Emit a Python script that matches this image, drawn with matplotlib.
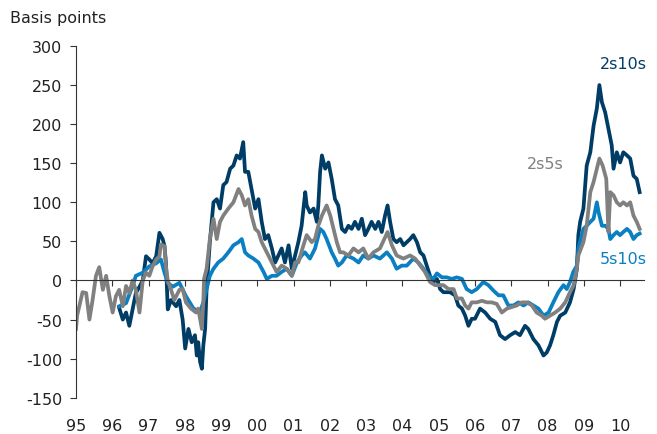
import matplotlib
matplotlib.use("Agg")
import matplotlib.pyplot as plt

plt.rcParams['font.family'] = ['DejaVu Sans']
plt.rcParams['axes.unicode_minus'] = False

# 2s5s spread (bp)
t_2s5s = [1995.00, 1995.03, 1995.09, 1995.18, 1995.28, 1995.37, 1995.46, 1995.55, 1995.64,
          1995.74, 1995.83, 1995.92, 1996.01, 1996.10, 1996.19, 1996.29, 1996.38, 1996.47,
          1996.56, 1996.65, 1996.75, 1996.84, 1996.93, 1997.02, 1997.11, 1997.21, 1997.30,
          1997.34, 1997.44, 1997.48, 1997.53, 1997.62, 1997.71, 1997.85, 1997.94, 1998.03,
          1998.17, 1998.31, 1998.37, 1998.47, 1998.51, 1998.53, 1998.60, 1998.69, 1998.79,
          1998.88, 1998.97, 1999.06, 1999.20, 1999.34, 1999.48, 1999.57, 1999.66, 1999.75,
          1999.84, 1999.94, 2000.03, 2000.12, 2000.26, 2000.40, 2000.53, 2000.67, 2000.81,
          2000.95, 2001.04, 2001.13, 2001.27, 2001.36, 2001.50, 2001.59, 2001.68, 2001.78,
          2001.91, 2002.01, 2002.10, 2002.19, 2002.28, 2002.37, 2002.51, 2002.65, 2002.79,
          2002.92, 2003.06, 2003.20, 2003.38, 2003.59, 2003.71, 2003.84, 2004.03, 2004.21,
          2004.35, 2004.49, 2004.62, 2004.76, 2004.90, 2005.04, 2005.13, 2005.27, 2005.41,
          2005.50, 2005.64, 2005.73, 2005.82, 2005.91, 2006.05, 2006.19, 2006.33, 2006.46,
          2006.60, 2006.74, 2006.88, 2007.02, 2007.15, 2007.29, 2007.43, 2007.57, 2007.70,
          2007.84, 2007.93, 2008.07, 2008.21, 2008.35, 2008.49, 2008.62, 2008.72, 2008.81,
          2008.85, 2008.99, 2009.08, 2009.18, 2009.27, 2009.36, 2009.43, 2009.52, 2009.62,
          2009.68, 2009.73, 2009.82, 2009.91, 2010.00, 2010.09, 2010.19, 2010.28, 2010.37,
          2010.46, 2010.54]
v_2s5s = [-62, -45, -33, -15, -16, -50, -24, 6, 17,
          -12, 6, -20, -41, -20, -12, -33, -7, -16,
          0, -12, -41, 0, 10, 6, 18, 27, 31,
          46, 44, 18, 0, -12, -25, -12, -11, -28,
          -36, -41, -36, -62, -28, 2, 15, 53, 79,
          53, 75, 83, 92, 100, 117, 109, 96, 104,
          83, 66, 62, 49, 36, 23, 11, 19, 15,
          6, 23, 23, 45, 58, 49, 53, 70, 83,
          96, 83, 66, 49, 36, 36, 32, 41, 36,
          41, 28, 36, 41, 62, 45, 32, 28, 32,
          28, 19, 11, -2, -6, -6, -6, -11, -11,
          -23, -23, -32, -36, -28, -28, -26, -28, -28,
          -30, -41, -36, -34, -32, -28, -28, -32, -41,
          -45, -49, -45, -41, -36, -28, -15, -6, 15,
          32, 49, 70, 113, 126, 143, 156, 147, 130,
          62, 113, 109, 100, 96, 100, 96, 100, 83,
          75, 66]

# 2s10s spread (bp)
t_2s10s = [1996.19, 1996.29, 1996.38, 1996.47, 1996.56, 1996.65, 1996.75, 1996.84, 1996.93,
           1997.02, 1997.11, 1997.21, 1997.30, 1997.39, 1997.44, 1997.48, 1997.53, 1997.62,
           1997.76, 1997.85, 1997.94, 1998.01, 1998.10, 1998.19, 1998.28, 1998.33, 1998.37,
           1998.42, 1998.47, 1998.51, 1998.56, 1998.60, 1998.65, 1998.69, 1998.79, 1998.88,
           1998.97, 1999.06, 1999.15, 1999.25, 1999.34, 1999.43, 1999.52, 1999.61, 1999.66,
           1999.75, 1999.84, 1999.94, 2000.03, 2000.12, 2000.21, 2000.30, 2000.40, 2000.49,
           2000.58, 2000.67, 2000.76, 2000.86, 2000.95, 2001.04, 2001.13, 2001.22, 2001.32,
           2001.36, 2001.45, 2001.55, 2001.64, 2001.68, 2001.73, 2001.78, 2001.87, 2001.96,
           2002.05, 2002.14, 2002.23, 2002.33, 2002.42, 2002.51, 2002.60, 2002.69, 2002.79,
           2002.88, 2002.97, 2003.06, 2003.15, 2003.25, 2003.34, 2003.43, 2003.52, 2003.59,
           2003.66, 2003.75, 2003.84, 2003.94, 2004.03, 2004.12, 2004.21, 2004.30, 2004.40,
           2004.49, 2004.58, 2004.67, 2004.76, 2004.85, 2004.95, 2005.04, 2005.13, 2005.31,
           2005.45, 2005.54, 2005.64, 2005.73, 2005.82, 2005.91, 2006.00, 2006.14, 2006.28,
           2006.42, 2006.56, 2006.69, 2006.83, 2006.97, 2007.11, 2007.24, 2007.38, 2007.47,
           2007.61, 2007.75, 2007.89, 2007.98, 2008.07, 2008.16, 2008.26, 2008.35, 2008.49,
           2008.62, 2008.72, 2008.81, 2008.85, 2008.90, 2008.99, 2009.04, 2009.08, 2009.18,
           2009.27, 2009.36, 2009.43, 2009.50, 2009.59, 2009.68, 2009.77, 2009.82, 2009.91,
           2010.00, 2010.09, 2010.19, 2010.28, 2010.37, 2010.46, 2010.54]
v_2s10s = [-35, -50, -41, -58, -37, -16, -8, 0, 31,
           27, 22, 31, 61, 53, 44, 22, -37, -25,
           -33, -25, -50, -87, -62, -79, -70, -96, -79,
           -104, -113, -83, -62, -11, 23, 49, 100, 104,
           92, 122, 126, 143, 147, 160, 156, 177, 139,
           139, 117, 92, 104, 75, 53, 58, 41, 23,
           32, 41, 23, 45, 15, 32, 49, 70, 113,
           96, 87, 92, 75, 96, 139, 160, 143, 151,
           130, 104, 96, 66, 62, 70, 66, 75, 66,
           79, 58, 66, 75, 66, 75, 62, 83, 96,
           75, 53, 49, 53, 45, 49, 53, 58, 49,
           36, 32, 19, 6, -2, 2, -11, -15, -15,
           -19, -32, -36, -45, -58, -49, -49, -36, -41,
           -49, -53, -70, -75, -70, -66, -70, -58, -62,
           -75, -83, -96, -92, -83, -70, -53, -45, -41,
           -28, -11, 15, 58, 75, 92, 122, 147, 164,
           198, 220, 250, 228, 215, 194, 173, 143, 164,
           151, 164, 160, 156, 134, 130, 113]

# 5s10s spread (bp)
t_5s10s = [1996.19, 1996.38, 1996.56, 1996.65, 1996.84, 1997.02, 1997.21, 1997.34, 1997.44,
           1997.53, 1997.67, 1997.85, 1998.03, 1998.24, 1998.42, 1998.51, 1998.60, 1998.69,
           1998.79, 1998.92, 1999.06, 1999.20, 1999.34, 1999.48, 1999.57, 1999.66, 1999.75,
           1999.89, 2000.03, 2000.17, 2000.26, 2000.40, 2000.53, 2000.67, 2000.81, 2000.95,
           2001.09, 2001.22, 2001.31, 2001.45, 2001.59, 2001.73, 2001.82, 2001.91, 2002.05,
           2002.14, 2002.23, 2002.33, 2002.46, 2002.65, 2002.79, 2002.92, 2003.06, 2003.20,
           2003.38, 2003.57, 2003.71, 2003.84, 2003.98, 2004.12, 2004.30, 2004.44, 2004.58,
           2004.72, 2004.85, 2004.95, 2005.09, 2005.22, 2005.36, 2005.50, 2005.64, 2005.77,
           2005.91, 2006.05, 2006.23, 2006.37, 2006.51, 2006.65, 2006.78, 2006.92, 2007.06,
           2007.20, 2007.34, 2007.47, 2007.61, 2007.75, 2007.89, 2008.03, 2008.16, 2008.30,
           2008.44, 2008.53, 2008.62, 2008.71, 2008.81, 2008.85, 2008.99, 2009.08, 2009.18,
           2009.27, 2009.36, 2009.41, 2009.50, 2009.59, 2009.68, 2009.73, 2009.82, 2009.91,
           2010.00, 2010.09, 2010.19, 2010.28, 2010.37, 2010.46, 2010.54]
v_5s10s = [-33, -29, -7, 6, 10, 18, 22, 27, 10,
           -3, -8, -3, -20, -36, -40, -28, -11, 6,
           15, 23, 28, 36, 45, 49, 53, 36, 32,
           28, 23, 11, 2, 6, 6, 11, 15, 6,
           23, 32, 36, 28, 41, 66, 62, 53, 36,
           28, 19, 23, 32, 28, 23, 32, 28, 32,
           28, 36, 28, 15, 19, 19, 28, 23, 15,
           6, 2, 9, 4, 4, 2, 4, 2, -11,
           -15, -11, -2, -6, -13, -19, -19, -32, -32,
           -28, -32, -28, -32, -36, -45, -41, -28, -15,
           -6, -11, -2, 11, 19, 41, 66, 70, 75,
           79, 100, 87, 70, 70, 66, 53, 58, 62,
           58, 62, 66, 62, 53, 58, 60]

navy = '#003d66'
blue = '#0a7fc2'
grey = '#808080'

fig = plt.figure(figsize=(6.57, 4.35), dpi=100)
ax = fig.add_axes([0.1157, 0.0834, 0.8645, 0.8086])

ax.plot(t_2s10s, v_2s10s, color=navy, lw=2.7, solid_joinstyle='round')
ax.plot(t_5s10s, v_5s10s, color=blue, lw=2.7, solid_joinstyle='round')
ax.plot(t_2s5s, v_2s5s, color=grey, lw=2.7, solid_joinstyle='round')

ax.set_xlim(1995.0, 2010.66)
ax.set_ylim(-150, 300)
ax.set_yticks(range(-150, 301, 50))
years = list(range(1995, 2011))
ax.set_xticks(years)
ax.set_xticklabels(['%02d' % (y % 100) for y in years])

for s in ['top', 'right']:
    ax.spines[s].set_visible(False)
ax.spines['bottom'].set_position(('data', 0))
ax.spines['bottom'].set_color('#333333')
ax.spines['left'].set_color('#333333')
ax.tick_params(axis='y', direction='out', length=4, color='#333333',
               labelsize=11.5, labelcolor='#222222', pad=6)
ax.tick_params(axis='x', direction='out', length=4, color='#333333',
               labelsize=11.5, labelcolor='#222222', pad=95)

fig.text(0.015, 0.958, 'Basis points', fontsize=11.5, color='#222222', va='center')
ax.text(2010.1, 277, '2s10s', color=navy, fontsize=11.5, ha='center', va='center')
ax.text(2007.95, 150, '2s5s', color=grey, fontsize=11.5, ha='center', va='center')
ax.text(2010.1, 28, '5s10s', color=blue, fontsize=11.5, ha='center', va='center')

fig.savefig('out.png', dpi=100)
